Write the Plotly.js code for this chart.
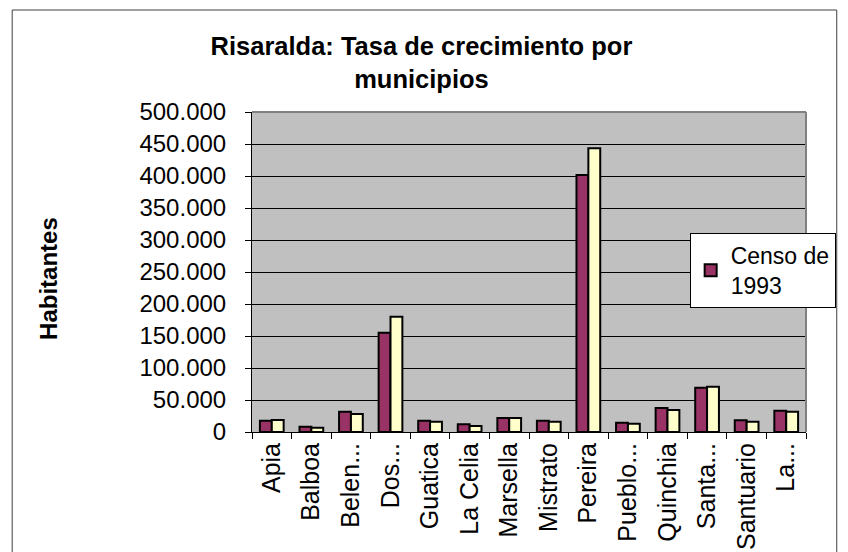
<!DOCTYPE html>
<html>
<head>
<meta charset="utf-8">
<script src="https://cdn.plot.ly/plotly-3.0.1.min.js"></script>
<style>html,body{margin:0;padding:0;background:#fff;}#chart{width:848px;height:552px;}</style>
</head>
<body>
<div id="chart"></div>
<script>
const municipios = ["Apia","Balboa","Belen...","Dos...","Guatica","La Celia","Marsella","Mistrato","Pereira","Pueblo...","Quinchia","Santa...","Santuario","La..."];
const censo1993 = [17700, 8300, 31700, 155200, 17700, 12000, 21900, 17700, 401500, 14500, 37500, 69200, 18200, 33300];
const serie2 = [18700, 6700, 28100, 180200, 16100, 9400, 21900, 16100, 443300, 13000, 34400, 70800, 16100, 31700];
const yTicks = [0, 50000, 100000, 150000, 200000, 250000, 300000, 350000, 400000, 450000, 500000];

const traces = [
  {type:"bar", x:municipios, y:censo1993, name:"Censo de<br>1993",
   marker:{color:"#993366", line:{color:"#000", width:2}}},
  {type:"bar", x:municipios, y:serie2, name:"Serie 2", showlegend:false,
   marker:{color:"#FFFFCC", line:{color:"#000", width:2}}}
];

const layout = {
  width:848, height:552,
  margin:{l:252, r:37, t:112, b:120},
  paper_bgcolor:"#fff", plot_bgcolor:"#C0C0C0",
  separators:",.",
  font:{family:"Arial, 'Liberation Sans', sans-serif", color:"#000"},
  title:{text:"<b>Risaralda: Tasa de crecimiento por<br>municipios</b>", font:{size:25.5, color:"#000"}, x:0.497, xanchor:"center", y:0.901, yanchor:"top"},
  barmode:"group", bargap:0.4, bargroupgap:0,
  showlegend:true,
  legend:{x:0.79, y:0.622, xanchor:"left", yanchor:"top", bgcolor:"#fff", bordercolor:"#000", borderwidth:1, font:{size:23, color:"#000"}},
  xaxis:{type:"category", tickangle:-90, tickfont:{size:25}, ticks:"outside", tickson:"boundaries", ticklen:6, tickcolor:"#000",
         showline:true, linecolor:"#000", linewidth:1, showgrid:false, automargin:false, fixedrange:true},
  yaxis:{range:[0,500000], tickvals:yTicks, tickformat:",d", tickfont:{size:24}, ticks:"outside", ticklen:6, tickcolor:"#000",
         ticklabelstandoff:14,
         showline:true, linecolor:"#000", linewidth:1, showgrid:true, gridcolor:"#000", gridwidth:1, zeroline:false, automargin:false,
         fixedrange:true},
  shapes:[
    {type:"line", xref:"paper", yref:"paper", x0:0, x1:1, y0:1, y1:1, line:{color:"#808080", width:2}},
    {type:"line", xref:"paper", yref:"paper", x0:1, x1:1, y0:0, y1:1, line:{color:"#808080", width:2}},
    {type:"rect", xref:"paper", yref:"paper", x0:-0.4329, x1:1.0555, y0:-0.45, y1:1.31875, line:{color:"#404040", width:1}, layer:"below"}
  ],
  annotations:[
    {text:"<b>Habitantes</b>", xref:"paper", yref:"paper", x:-0.3685, y:0.481, xanchor:"center", yanchor:"middle",
     textangle:-90, showarrow:false, font:{size:24, color:"#000"}}
  ]
};

Plotly.newPlot("chart", traces, layout, {displayModeBar:false, staticPlot:true});
</script>
</body>
</html>
